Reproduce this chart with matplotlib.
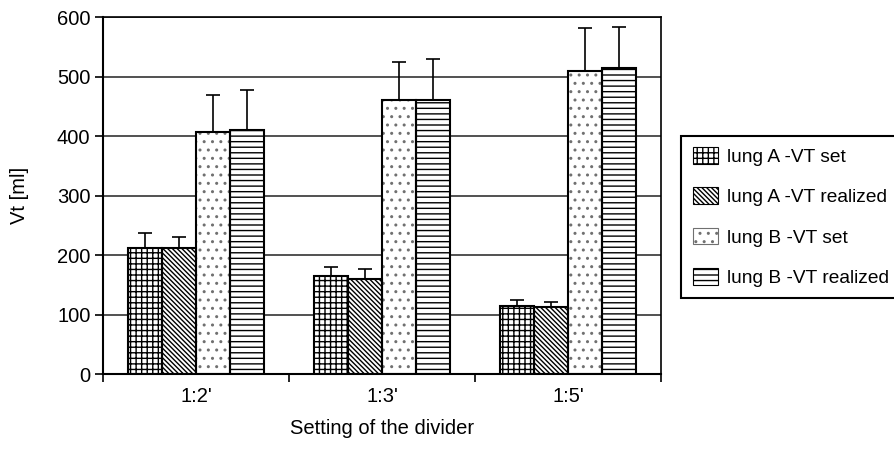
import numpy as np
import matplotlib
matplotlib.use("Agg")
import matplotlib.pyplot as plt

categories = ["1:2'", "1:3'", "1:5'"]
series_labels = ["lung A -VT set", "lung A -VT realized", "lung B -VT set", "lung B -VT realized"]
a_set = [211, 164, 114]
a_set_sd = [26, 16, 10]
a_real = [211, 160, 113]
a_real_sd = [20, 16, 8]
b_set = [407, 461, 509]
b_set_sd = [62, 64, 72]
b_real = [411, 461, 514]
b_real_sd = [67, 69, 70]
y_ticks = [0, 100, 200, 300, 400, 500, 600]

plt.rcParams['font.family'] = ['Liberation Sans', 'DejaVu Sans']
plt.rcParams['hatch.linewidth'] = 1.0
font_size = 14.5
legend_size = 13.8

fig = plt.figure(figsize=(8.94, 4.49), dpi=100)
ax = fig.add_axes([0.1152, 0.167, 0.6242, 0.795])

x = np.arange(len(categories))
width = 0.183
hatches = ['+++', '\\\\\\\\\\\\\\', '..', '---']
hatch_colors = ['black', 'black', '#707070', 'black']
values = [a_set, a_real, b_set, b_real]
errors = [a_set_sd, a_real_sd, b_set_sd, b_real_sd]

handles = []
for i, (vals, errs, hatch, hcol, label) in enumerate(zip(values, errors, hatches, hatch_colors, series_labels)):
    pos = x + (i - 1.5) * width
    # hatch layer (its colour comes from edgecolor), then a black outline on top
    ax.bar(pos, vals, width, facecolor='white', edgecolor=hcol, hatch=hatch,
           linewidth=0, zorder=2)
    ax.bar(pos, vals, width, fill=False, edgecolor='black', linewidth=1.5, zorder=2.5)
    ax.errorbar(pos, vals, yerr=[[0] * len(errs), errs], fmt='none', ecolor='black',
                elinewidth=1.2, capsize=4.7, capthick=1.2, zorder=3)
    handles.append(plt.Rectangle((0, 0), 1, 1, facecolor='white', edgecolor=hcol,
                                 hatch=hatch, linewidth=0.8, label=label))

ax.set_ylim(0, 600)
ax.set_xlim(-0.5, len(categories) - 0.5)
ax.set_yticks(y_ticks)
ax.set_xticks(x)
ax.set_xticklabels(categories)
ax.set_xticks(np.arange(len(categories) + 1) - 0.5, minor=True)
ax.tick_params(axis='x', which='major', length=0, labelsize=font_size, pad=9)
ax.tick_params(axis='x', which='minor', length=6, width=1.2, direction='out')
ax.tick_params(axis='y', length=6, width=1.2, direction='out', labelsize=font_size, pad=3)
ax.yaxis.grid(True, color='#333333', linewidth=1.2, zorder=0)
ax.set_axisbelow(True)
for side in ['left', 'bottom']:
    ax.spines[side].set_linewidth(1.5)
for side in ['top', 'right']:
    ax.spines[side].set_linewidth(1.2)

ax.set_ylabel("Vt [ml]", fontsize=font_size, labelpad=20)
ax.set_xlabel("Setting of the divider", fontsize=font_size, labelpad=10)

leg = fig.legend(handles=handles, loc='upper left', bbox_to_anchor=(0.762, 0.698),
                 fontsize=legend_size, frameon=True, fancybox=False, edgecolor='black',
                 framealpha=1, handlelength=1.3, handleheight=0.95, handletextpad=0.5,
                 labelspacing=1.12, borderpad=0.6, borderaxespad=0)
leg.get_frame().set_linewidth(1.5)

fig.savefig("out.png", dpi=100)
